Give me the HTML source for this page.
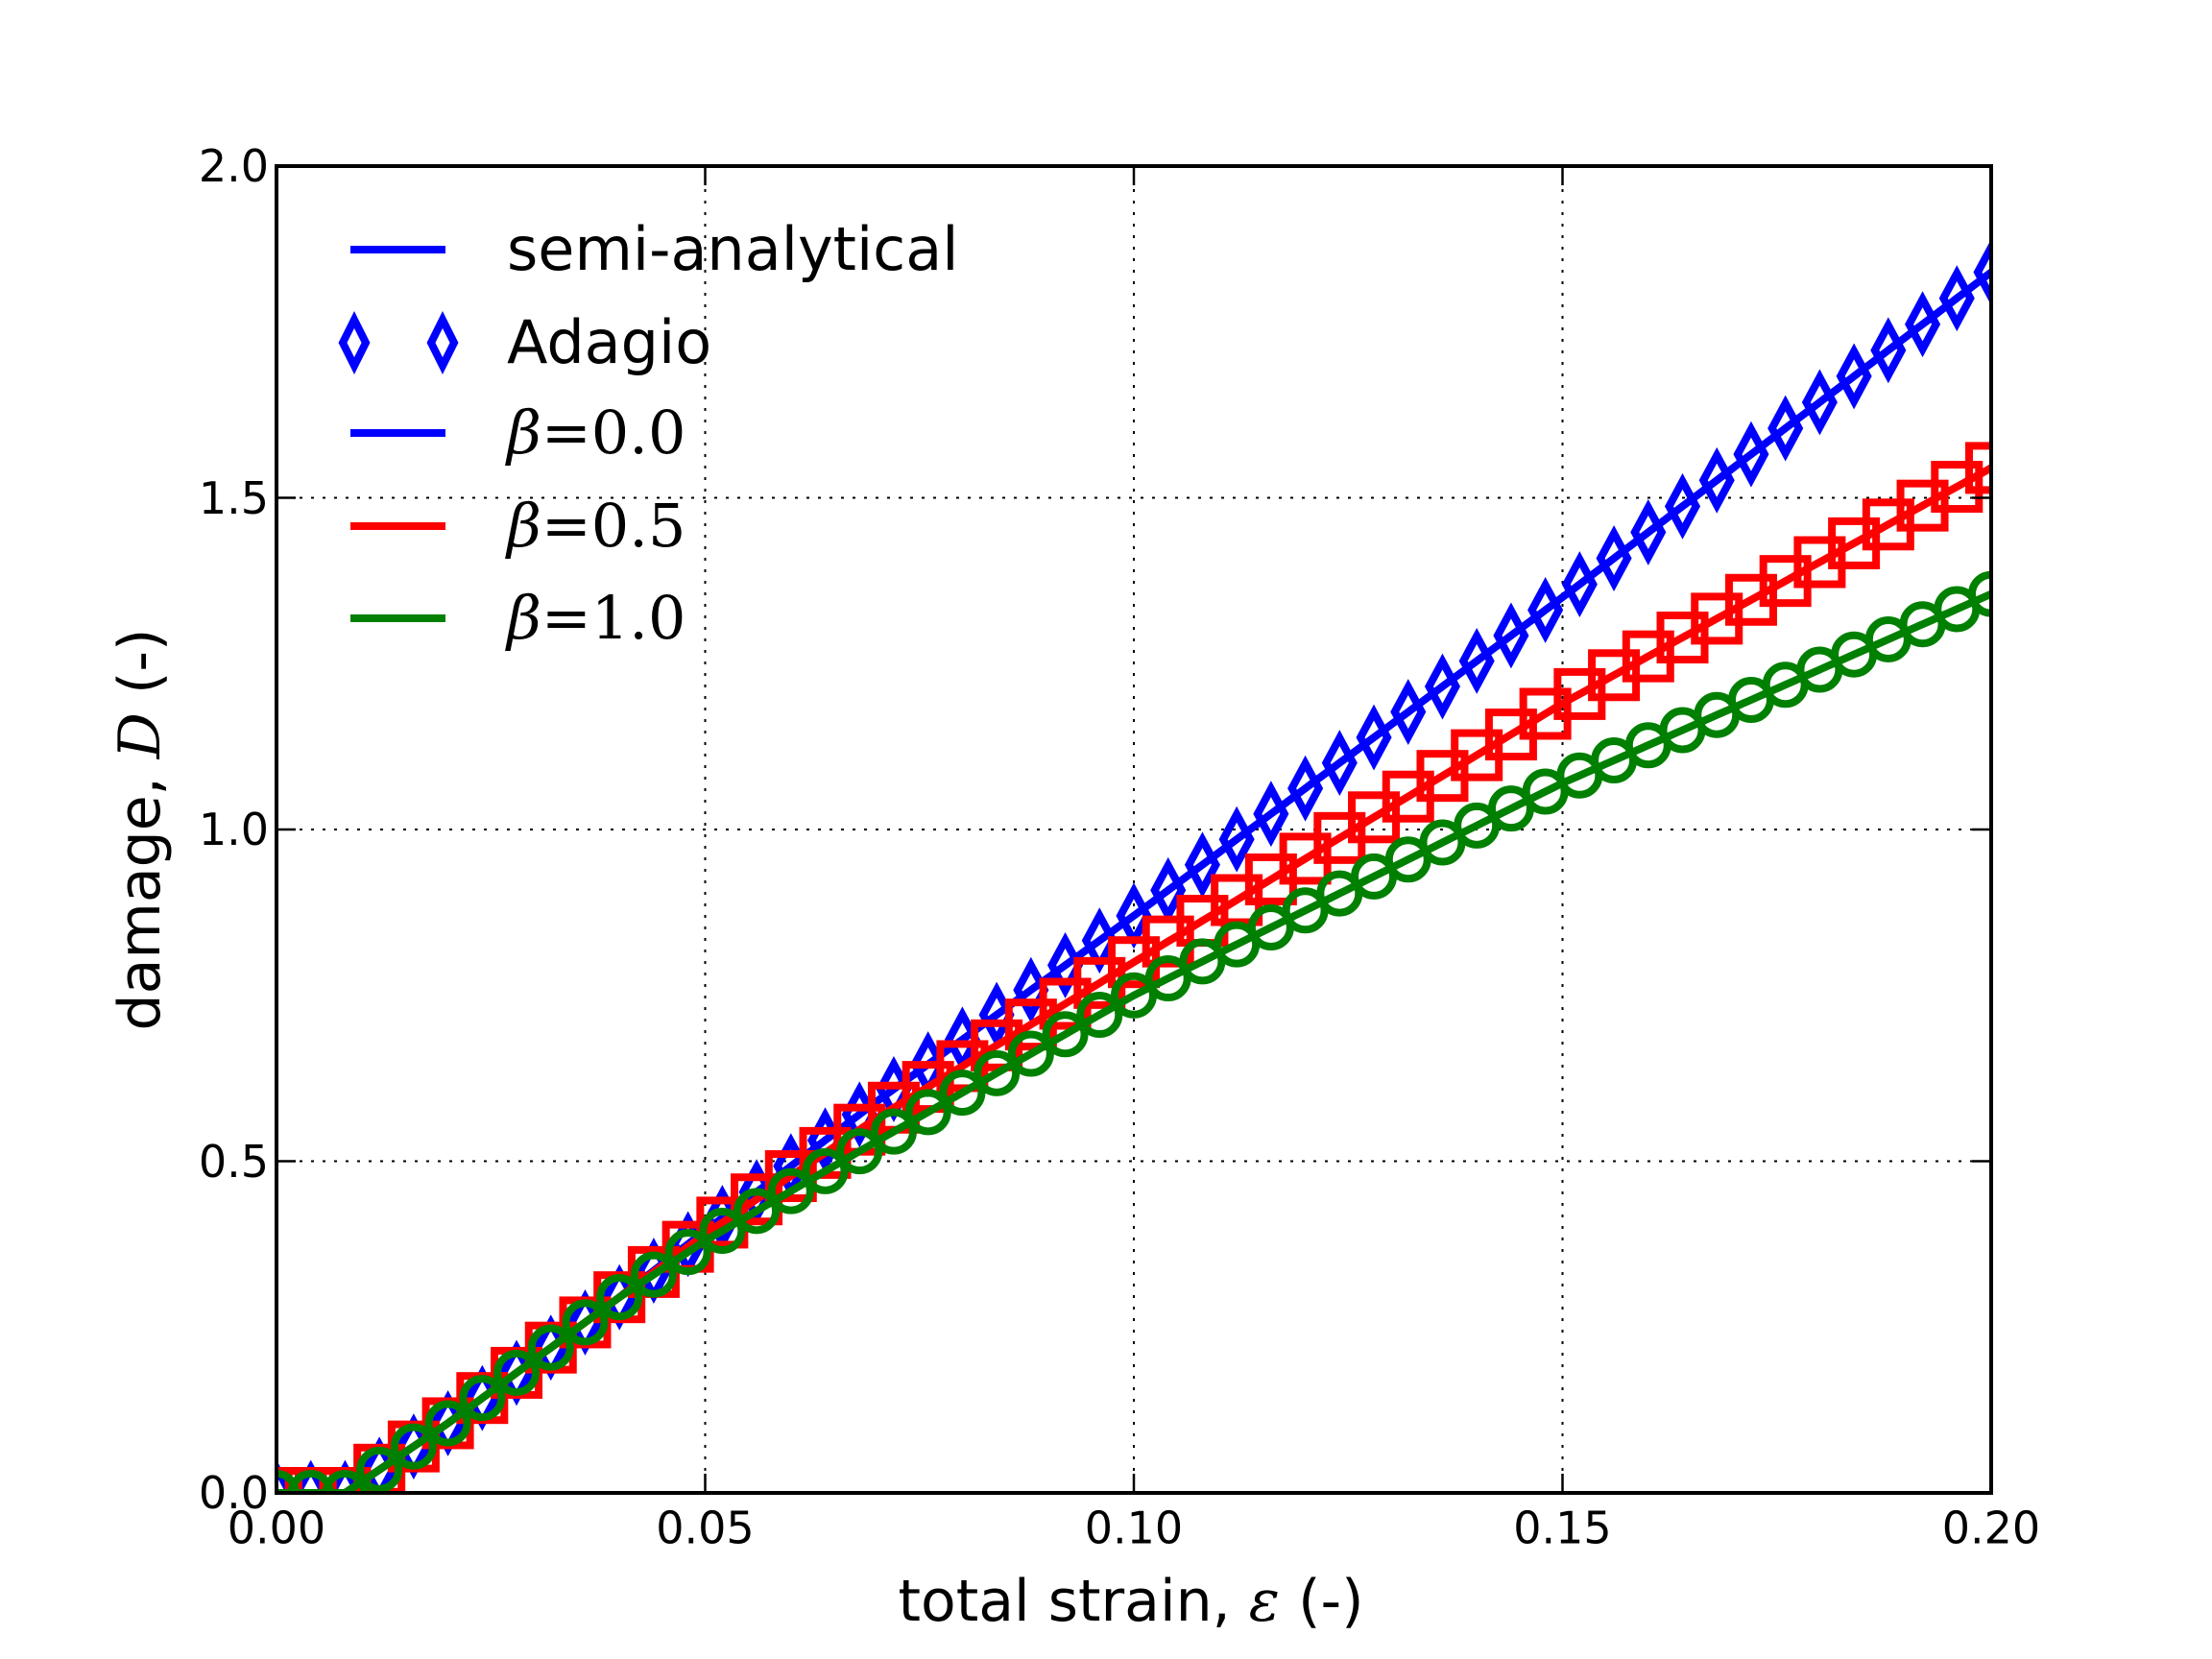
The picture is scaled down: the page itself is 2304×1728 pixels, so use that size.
<!DOCTYPE html>
<html><head><meta charset="utf-8"><style>
html,body{margin:0;padding:0;background:#fff;}
svg{display:block;}
text{font-family:"DejaVu Sans","Liberation Sans",sans-serif;}
.m{font-family:"DejaVu Serif","Liberation Serif",serif;font-style:italic;}
</style></head><body>
<svg id="s" width="2304" height="1728" viewBox="0 0 2304 1728" xmlns="http://www.w3.org/2000/svg">
<rect width="2304" height="1728" fill="#fff"/>
<g id="grid" stroke="#000" stroke-width="2" stroke-dasharray="3,9">
<line x1="734.5" y1="173" x2="734.5" y2="1555"/>
<line x1="1181" y1="173" x2="1181" y2="1555"/>
<line x1="1627.5" y1="173" x2="1627.5" y2="1555"/>
<line x1="288" y1="1209.5" x2="2074" y2="1209.5"/>
<line x1="288" y1="864" x2="2074" y2="864"/>
<line x1="288" y1="518.5" x2="2074" y2="518.5"/>
</g>
<g id="data"></g>
<g stroke="#000" stroke-width="2.5">
<line x1="734.5" y1="1555" x2="734.5" y2="1535"/><line x1="1181" y1="1555" x2="1181" y2="1535"/><line x1="1627.5" y1="1555" x2="1627.5" y2="1535"/>
<line x1="734.5" y1="173" x2="734.5" y2="193"/><line x1="1181" y1="173" x2="1181" y2="193"/><line x1="1627.5" y1="173" x2="1627.5" y2="193"/>
<line x1="288" y1="1209.5" x2="308" y2="1209.5"/><line x1="288" y1="864" x2="308" y2="864"/><line x1="288" y1="518.5" x2="308" y2="518.5"/>
<line x1="2074" y1="1209.5" x2="2054" y2="1209.5"/><line x1="2074" y1="864" x2="2054" y2="864"/><line x1="2074" y1="518.5" x2="2054" y2="518.5"/>
</g>
<rect x="288" y="173" width="1786" height="1382" fill="none" stroke="#000" stroke-width="4"/>
<g font-size="46" fill="#000" text-anchor="middle">
<text x="288" y="1573" dominant-baseline="hanging">0.00</text><text x="734.5" y="1573" dominant-baseline="hanging">0.05</text><text x="1181" y="1573" dominant-baseline="hanging">0.10</text><text x="1627.5" y="1573" dominant-baseline="hanging">0.15</text><text x="2074" y="1573" dominant-baseline="hanging">0.20</text>
</g>
<g font-size="46" fill="#000" text-anchor="end">
<text x="280" y="1571">0.0</text><text x="280" y="1226">0.5</text><text x="280" y="880">1.0</text><text x="280" y="535">1.5</text><text x="280" y="189">2.0</text>
</g>
<text x="1178" y="1688" font-size="60" text-anchor="middle">total strain, <tspan class="m">ε</tspan> (-)</text>
<text transform="translate(166,864) rotate(-90)" font-size="60" text-anchor="middle">damage, <tspan class="m">D</tspan> (-)</text>
<g id="leg" font-size="62">
<line x1="365" y1="260" x2="464" y2="260" stroke="#00f" stroke-width="8"/>
<text x="528" y="281">semi-analytical</text>
<text x="528" y="378">Adagio</text>
<line x1="365" y1="451" x2="464" y2="451" stroke="#00f" stroke-width="8"/>
<text x="528" y="472" class="m" style="font-style:normal"><tspan font-style="italic">β</tspan>=0.0</text>
<line x1="365" y1="548" x2="464" y2="548" stroke="#f00" stroke-width="8"/>
<text x="528" y="569" class="m" style="font-style:normal"><tspan font-style="italic">β</tspan>=0.5</text>
<line x1="365" y1="644" x2="464" y2="644" stroke="#008000" stroke-width="8"/>
<text x="528" y="665" class="m" style="font-style:normal"><tspan font-style="italic">β</tspan>=1.0</text>
<polygon points="369,333 381,357 369,381 357,357" fill="none" stroke="#00f" stroke-width="8"/>
<polygon points="461,333 473,357 461,381 449,357" fill="none" stroke="#00f" stroke-width="8"/>
</g>
</svg>
<script>
(function(){
var X=function(e){return 288+e*8930;},Y=function(d){return 1555-d*691;};
function interp(pts,e){for(var i=0;i<pts.length-1;i++){if(e<=pts[i+1][0]){var a=pts[i],b=pts[i+1];return a[1]+(b[1]-a[1])*(e-a[0])/(b[0]-a[0]);}}return pts[pts.length-1][1];}
var base=[[0,0],[0.008,0],[0.012,0.035],[0.02,0.105],[0.03,0.2],[0.04,0.295]];
var B=base.concat([[0.05,0.395],[0.07,0.59],[0.1,0.87],[0.15,1.35],[0.2,1.84]]);
var R=base.concat([[0.05,0.39],[0.07,0.565],[0.1,0.80],[0.15,1.19],[0.2,1.545]]);
var G=base.concat([[0.05,0.38],[0.07,0.53],[0.1,0.75],[0.15,1.07],[0.2,1.355]]);
var g=document.getElementById('data'),h='';
h+='<clipPath id="c"><rect x="288" y="173" width="1786" height="1382"/></clipPath><g clip-path="url(#c)">';
function series(P,col,mk){
 var s='';var d='';
 for(var i=0;i<=200;i++){var e=i*0.001;d+=(i?'L':'M')+X(e).toFixed(1)+','+Y(interp(P,e)).toFixed(1);}
 for(var k=0;k<=50;k++){var e=k*0.004,x=X(e),y=Y(interp(P,e));
  if(mk=='d')s+='<polygon points="'+x+','+(y-26)+' '+(x+14)+','+y+' '+x+','+(y+26)+' '+(x-14)+','+y+'" fill="none" stroke="'+col+'" stroke-width="8"/>';
  else if(mk=='s')s+='<rect x="'+(x-23)+'" y="'+(y-23)+'" width="46" height="46" fill="none" stroke="'+col+'" stroke-width="8"/>';
  else s+='<circle cx="'+x+'" cy="'+y+'" r="20" fill="none" stroke="'+col+'" stroke-width="8"/>';}
 s+='<path d="'+d+'" fill="none" stroke="'+col+'" stroke-width="8"/>';
 return s;}
h+=series(B,'#00f','d')+series(R,'#f00','s')+series(G,'#008000','o')+'</g>';
g.innerHTML=h;
})();
</script>
</body></html>
